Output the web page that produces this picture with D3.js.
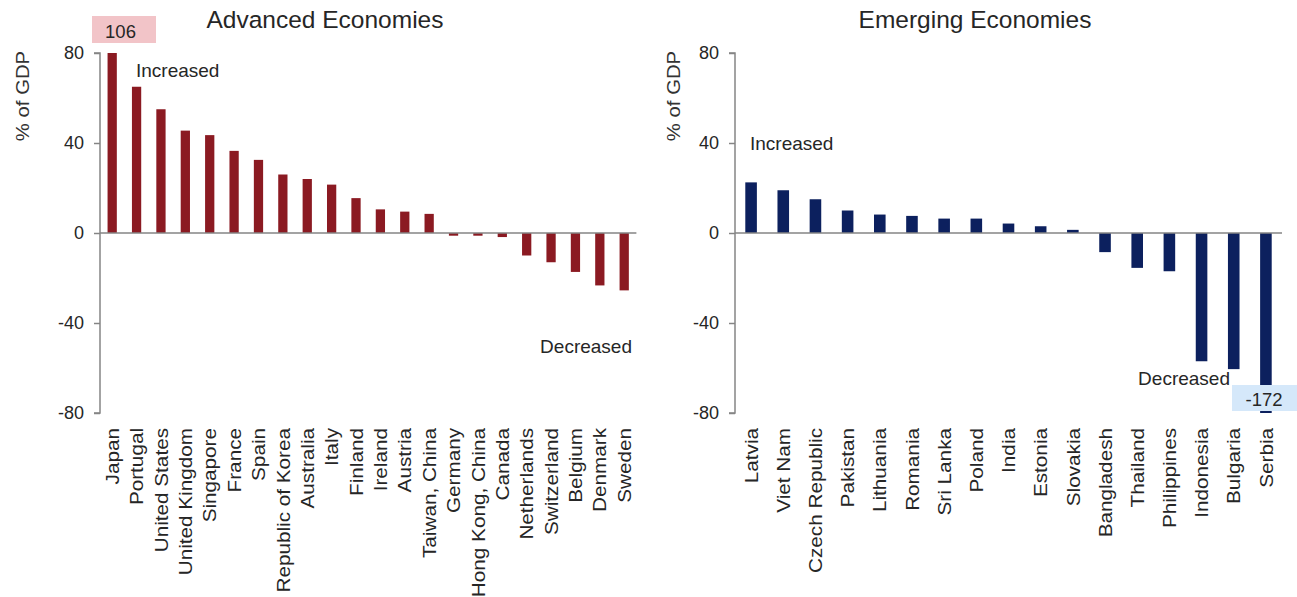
<!DOCTYPE html>
<html>
<head>
<meta charset="utf-8">
<script src="https://cdn.jsdelivr.net/npm/d3@7"></script>
<style>
  html, body { margin: 0; padding: 0; background: #ffffff; }
  svg { display: block; font-family: "Liberation Sans", Arial, sans-serif; }
</style>
</head>
<body>
<svg id="chart" width="1297" height="597"></svg>
<script>
// Change in public debt, % of GDP
const advancedCountries = ["Japan", "Portugal", "United States", "United Kingdom", "Singapore", "France",
  "Spain", "Republic of Korea", "Australia", "Italy", "Finland", "Ireland", "Austria", "Taiwan, China",
  "Germany", "Hong Kong, China", "Canada", "Netherlands", "Switzerland", "Belgium", "Denmark", "Sweden"];
const advancedValues = [106, 65, 55, 45.5, 43.5, 36.5, 32.5, 26, 24, 21.5, 15.5, 10.5, 9.5, 8.5,
  -1.2, -1.2, -1.8, -10, -13, -17.3, -23.3, -25.5];

const emergingCountries = ["Latvia", "Viet Nam", "Czech Republic", "Pakistan", "Lithuania", "Romania",
  "Sri Lanka", "Poland", "India", "Estonia", "Slovakia", "Bangladesh", "Thailand", "Philippines",
  "Indonesia", "Bulgaria", "Serbia"];
const emergingValues = [22.5, 19, 15, 10, 8.2, 7.6, 6.4, 6.4, 4.2, 3, 1.4, -8.5, -15.5, -17,
  -57, -60.5, -172];

const yTicks = [80, 40, 0, -40, -80];
const yDomain = [-80, 80];

const svg = d3.select("#chart");
const textColor = "#262626";
const axisColor = "#858585";
// plain hyphen-minus for negative numbers
const fmt = d => String(Math.round(d));

function drawPanel(cfg) {
  const x = d3.scaleBand()
    .domain(cfg.categories)
    .range(cfg.xRange)
    .paddingInner(cfg.pad)
    .paddingOuter(cfg.pad / 2);
  const y = d3.scaleLinear().domain(yDomain).range([413, 53]).clamp(true);

  const g = svg.append("g");

  // title
  g.append("text")
    .attr("x", cfg.titleX).attr("y", 28)
    .attr("text-anchor", "middle")
    .attr("font-size", 24.5)
    .attr("fill", textColor)
    .text(cfg.title);

  // y axis label
  g.append("text")
    .attr("transform", `translate(${cfg.yLabelX},96) rotate(-90) scale(1.07,1)`)
    .attr("text-anchor", "middle")
    .attr("font-size", 19)
    .attr("fill", "#333")
    .text("% of GDP");

  // bars
  const data = cfg.categories.map((c, i) => ({ c, v: cfg.values[i] }));
  g.append("g").selectAll("rect")
    .data(data)
    .join("rect")
    .attr("x", d => x(d.c))
    .attr("width", x.bandwidth())
    .attr("y", d => Math.min(y(d.v), y(0)))
    .attr("height", d => Math.abs(y(d.v) - y(0)))
    .attr("fill", cfg.color);

  // y axis
  const yAxis = d3.axisLeft(y).tickValues(yTicks).tickSize(6).tickPadding(10).tickFormat(fmt);
  const ya = g.append("g")
    .attr("transform", `translate(${cfg.xRange[0]},0)`)
    .call(yAxis);
  ya.select(".domain").attr("stroke", axisColor).attr("stroke-width", 1.5).attr("d", `M-6,53H0V413H-6`);
  ya.selectAll(".tick line").attr("stroke", axisColor).attr("stroke-width", 1.5);
  ya.selectAll(".tick text").attr("font-size", 18).attr("fill", textColor)
    .attr("font-family", "Liberation Sans, Arial, sans-serif");

  // zero line
  g.append("line")
    .attr("x1", cfg.xRange[0]).attr("x2", cfg.xRange[1])
    .attr("y1", y(0)).attr("y2", y(0))
    .attr("stroke", axisColor).attr("stroke-width", 1.5);

  // category labels
  g.append("g").selectAll("text")
    .data(cfg.categories)
    .join("text")
    .attr("transform", d => `translate(${x(d) + x.bandwidth() / 2},428) rotate(-90) scale(1.09,1)`)
    .attr("text-anchor", "end")
    .attr("dy", "0.35em")
    .attr("font-size", 19)
    .attr("fill", textColor)
    .text(d => d);

  // annotations
  cfg.notes.forEach(n => {
    g.append("text")
      .attr("x", n.x).attr("y", n.y)
      .attr("text-anchor", n.anchor)
      .attr("font-size", 19)
      .attr("fill", textColor)
      .text(n.text);
  });

  // off-scale value callout
  const o = cfg.callout;
  const ov = cfg.values[cfg.categories.indexOf(o.category)];
  g.append("rect")
    .attr("x", o.box[0]).attr("y", o.box[1])
    .attr("width", o.box[2]).attr("height", o.box[3])
    .attr("fill", o.fill);
  g.append("text")
    .attr("x", o.box[0] + o.box[2] / 2 + o.dx).attr("y", o.box[1] + o.box[3] - 5)
    .attr("text-anchor", "middle")
    .attr("font-size", 18.5)
    .attr("fill", textColor)
    .text(fmt(ov));
}

drawPanel({
  title: "Advanced Economies",
  titleX: 325,
  yLabelX: 29,
  categories: advancedCountries,
  values: advancedValues,
  xRange: [100, 636.4],
  pad: 0.62,
  color: "#8b1a22",
  notes: [
    { text: "Increased", x: 136, y: 77, anchor: "start" },
    { text: "Decreased", x: 632, y: 353, anchor: "end" }
  ],
  callout: { category: "Japan", box: [92, 16, 64, 27], fill: "#f2c4c8", dx: -3.5 }
});

drawPanel({
  title: "Emerging Economies",
  titleX: 975,
  yLabelX: 680,
  categories: emergingCountries,
  values: emergingValues,
  xRange: [735, 1282],
  pad: 0.64,
  color: "#0c205e",
  notes: [
    { text: "Increased", x: 750, y: 150, anchor: "start" },
    { text: "Decreased", x: 1230, y: 385, anchor: "end" }
  ],
  callout: { category: "Serbia", box: [1232, 385, 66, 26], fill: "#d5e8fa", dx: -1 }
});
</script>
</body>
</html>
